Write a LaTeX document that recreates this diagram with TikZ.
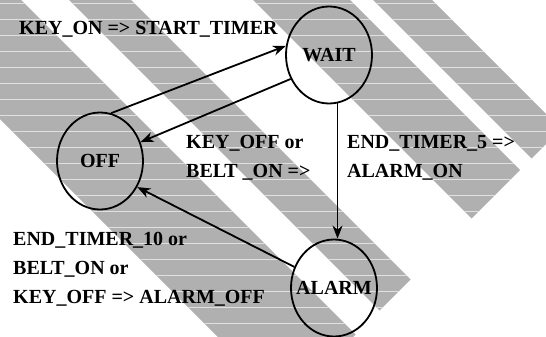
\documentclass[tikz,border=0pt]{standalone}
\usepackage{fontspec}
\setmainfont{Liberation Serif}
\usetikzlibrary{arrows.meta,shapes.geometric}
\definecolor{bandgray}{gray}{0.69}
\definecolor{rulegray}{gray}{0.88}

\begin{document}
\begin{tikzpicture}[x=1pt,y=-1pt]
		\tikzset{state/.style = {shape=ellipse,draw,line width=1.8pt,minimum width=86pt,minimum height=97pt,inner sep=0pt,font=\bfseries\fontsize{20}{24}\selectfont}}
		\tikzset{edge/.style = {-{Stealth[length=13pt,width=10pt,inset=4pt]},line width=1.8pt}}
		\tikzset{cond/.style = {anchor=base west,align=left,inner sep=0pt,font=\bfseries\fontsize{20}{29}\selectfont}}
		\tikzset{band/.style = {fill=bandgray}}
		\tikzset{rule/.style = {draw=rulegray,line width=1.2pt}}
		
		\useasboundingbox (0,0) rectangle (546,337);
		
		% scanned background stripes
		\begin{scope}
			\clip (0,0) rectangle (546,337);
			\foreach \ua/\ub in {-119/21,69/131,253/350,373/432}{
				\begin{scope}
					\clip ({(\ua-400)/2},{(-400-(\ua))/2}) -- ({(\ua+690)/2},{(690-(\ua))/2})
						-- ({(\ub+690)/2},{(690-(\ub))/2}) -- ({(\ub-400)/2},{(-400-(\ub))/2}) -- cycle;
					\fill[band] (0,0) rectangle (546,337);
					\foreach \ry in {3.5,19.5,...,340}
						\draw[rule] (0,\ry) -- (546,\ry);
				\end{scope}
			}
		\end{scope}
		
		\node[state] (wait) at (329,55) {\makebox[0pt]{WAIT}};
		\node[state] (off) at (100,161) {\makebox[0pt]{OFF}};
		\node[state] (alarm) at (334,288) {\makebox[0pt]{ALARM}};
		
		% labels, placed by the baseline of their last line
		\node[cond] (keyon) at (19,35) {KEY\_ON => START\_TIMER};
		\node[cond] (keyoff) at (186,177) {KEY\_OFF or\\BELT \_ON =>};
		\node[cond] (timerfive) at (347,177) {END\_TIMER\_5 =>\\ALARM\_ON};
		\node[cond] (timerten) at (13,303) {END\_TIMER\_10 or\\BELT\_ON or\\KEY\_OFF => ALARM\_OFF};
		
		\draw[edge] (off.77) -- (wait.168);
		\draw[edge] (wait.212) -- (off.25);
		\draw[edge,line width=1.1pt] (wait.280) -- (wait.280 |- alarm.north);
		\draw[edge] (alarm.152) -- (off.325);
		\end{tikzpicture}
\end{document}
